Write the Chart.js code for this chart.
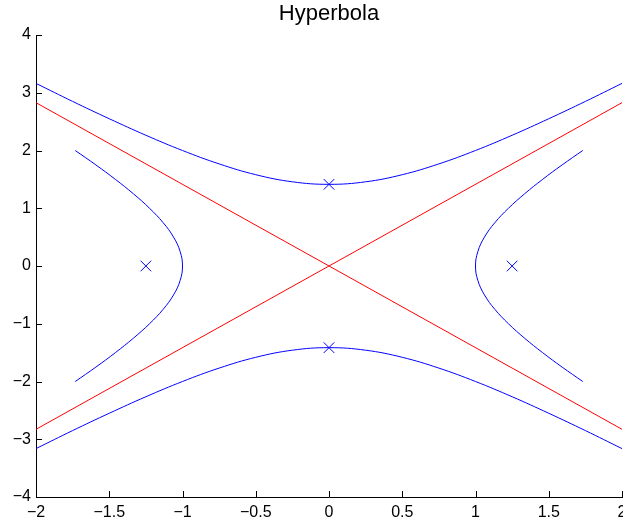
<!DOCTYPE html>
<html>
<head>
<meta charset="utf-8">
<script src="https://cdn.jsdelivr.net/npm/chart.js@4/dist/chart.umd.min.js"></script>
<style>
  html, body { margin: 0; padding: 0; background: #fff; }
  #wrap { width: 623px; height: 525px; }
</style>
</head>
<body>
<div id="wrap"><canvas id="chart" width="623" height="525"></canvas></div>
<script>
// side branches (left / right), sampled along y
const branchY = [-2, -1.75, -1.5, -1.25, -1, -0.75, -0.5, -0.25, 0, 0.25, 0.5, 0.75, 1, 1.25, 1.5, 1.75, 2];
const rightX = [1.732, 1.591, 1.458, 1.335, 1.225, 1.132, 1.061, 1.016, 1, 1.016, 1.061, 1.132, 1.225, 1.335, 1.458, 1.591, 1.732];
const leftX = [-1.732, -1.591, -1.458, -1.335, -1.225, -1.132, -1.061, -1.016, -1, -1.016, -1.061, -1.132, -1.225, -1.335, -1.458, -1.591, -1.732];

// upper / lower branches, sampled along x
const capX = [-2, -1.75, -1.5, -1.25, -1, -0.75, -0.5, -0.25, 0, 0.25, 0.5, 0.75, 1, 1.25, 1.5, 1.75, 2];
const topY = [3.162, 2.850, 2.550, 2.264, 2, 1.768, 1.581, 1.458, 1.414, 1.458, 1.581, 1.768, 2, 2.264, 2.550, 2.850, 3.162];
const bottomY = [-3.162, -2.850, -2.550, -2.264, -2, -1.768, -1.581, -1.458, -1.414, -1.458, -1.581, -1.768, -2, -2.264, -2.550, -2.850, -3.162];

// asymptotes
const asymX = [-2, 2];
const asymRiseY = [-2.828, 2.828];
const asymFallY = [2.828, -2.828];

// x markers
const markX = [-1.25, 1.25, 0, 0];
const markY = [0, 0, 1.414, -1.414];

const xTicks = [-2, -1.5, -1, -0.5, 0, 0.5, 1, 1.5, 2];
const yTicks = [-4, -3, -2, -1, 0, 1, 2, 3, 4];

const pts = (xs, ys) => xs.map((x, i) => ({ x: x, y: ys[i] }));
const fmt = v => String(v).replace('-', '\u2212');

const BLUE = '#0000ff';
const RED = '#ff0000';

const curve = (data, color) => ({
    data: data,
    borderColor: color,
    borderWidth: 1,
    pointRadius: 0,
    showLine: true,
    fill: false,
    tension: 0.4
});

// no label overhang padding, the last label may run off the canvas
const noPad = s => {
    s.paddingLeft = 0;
    s.paddingRight = 0;
    s.paddingTop = 0;
    s.paddingBottom = 0;
    if (s._margins) {
        s._margins.left = 0;
        s._margins.right = 0;
        s._margins.top = 0;
        s._margins.bottom = 0;
    }
};

// inward tick marks like matlab
const innerTicks = {
    id: 'innerTicks',
    afterDraw(chart) {
        const { ctx, chartArea, scales } = chart;
        ctx.save();
        ctx.strokeStyle = '#000';
        ctx.lineWidth = 1;
        ctx.beginPath();
        xTicks.forEach(v => {
            const px = Math.round(scales.x.getPixelForValue(v)) + 0.5;
            ctx.moveTo(px, chartArea.bottom);
            ctx.lineTo(px, chartArea.bottom - 6);
        });
        yTicks.forEach(v => {
            const py = Math.round(scales.y.getPixelForValue(v)) + 0.5;
            ctx.moveTo(chartArea.left, py);
            ctx.lineTo(chartArea.left + 6, py);
        });
        ctx.stroke();
        ctx.restore();
    }
};

new Chart(document.getElementById('chart'), {
    type: 'scatter',
    data: {
        datasets: [
            curve(pts(leftX, branchY), BLUE),
            curve(pts(rightX, branchY), BLUE),
            curve(pts(capX, topY), BLUE),
            curve(pts(capX, bottomY), BLUE),
            { ...curve(pts(asymX, asymRiseY), RED), tension: 0 },
            { ...curve(pts(asymX, asymFallY), RED), tension: 0 },
            {
                data: pts(markX, markY),
                showLine: false,
                pointStyle: 'crossRot',
                pointRadius: 7.5,
                pointBorderColor: BLUE,
                pointBorderWidth: 1
            }
        ]
    },
    options: {
        responsive: false,
        animation: false,
        layout: { autoPadding: false, padding: { top: 0, right: 1, left: 0, bottom: 0 } },
        plugins: {
            legend: { display: false },
            tooltip: { enabled: false },
            title: {
                display: true,
                fullSize: false,
                text: 'Hyperbola',
                color: '#000',
                font: { family: 'Liberation Sans', size: 22, weight: 'normal' },
                padding: { top: 1, bottom: 7.6 }
            }
        },
        scales: {
            x: {
                type: 'linear',
                min: -2,
                max: 2,
                afterFit(s) { s.height = 28; noPad(s); },
                grid: { display: true, drawOnChartArea: false, drawTicks: false },
                border: { display: true, color: '#000', width: 1 },
                ticks: {
                    stepSize: 0.5,
                    color: '#000',
                    padding: 6,
                    font: { family: 'Liberation Sans', size: 16 },
                    callback: v => fmt(v)
                }
            },
            y: {
                type: 'linear',
                min: -4,
                max: 4,
                afterFit(s) { s.width = 36; noPad(s); },
                grid: { display: true, drawOnChartArea: false, drawTicks: false },
                border: { display: true, color: '#000', width: 1 },
                ticks: {
                    stepSize: 1,
                    color: '#000',
                    padding: 5,
                    font: { family: 'Liberation Sans', size: 16 },
                    callback: v => fmt(v)
                }
            }
        }
    },
    plugins: [innerTicks]
});
</script>
</body>
</html>
